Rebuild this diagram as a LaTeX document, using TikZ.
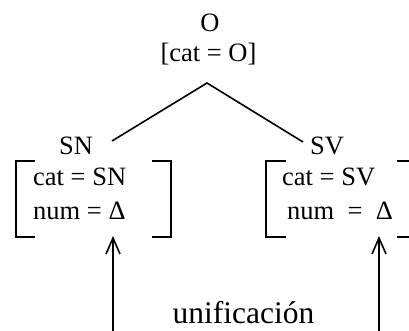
\documentclass[tikz,border=0pt]{standalone}
\usepackage{fontspec}
\setmainfont{Liberation Serif}
\usetikzlibrary{arrows.meta}
\begin{document}
\begin{tikzpicture}[x=1pt,y=-1pt,
  lbl/.style={inner sep=0pt,font=\fontsize{26.5}{30}\selectfont},
  big/.style={inner sep=0pt,font=\fontsize{31.5}{36}\selectfont},
  ln/.style={line width=1.6pt},
  brk/.style={line width=1.8pt},
  uparrow/.style={line width=1.6pt,-{Straight Barb[length=16pt,width=14pt,line width=1.6pt]}}]
\useasboundingbox (0,0) rectangle (409,331);
% top node
\node[lbl,anchor=base] (O) at (210,32) {O};
\node[lbl,anchor=base] (Ocat) at (208.5,62) {[cat = O]};
\coordinate (apex) at (207,83);
% daughters
\node[lbl,anchor=base] (SN) at (76,155) {SN};
\node[lbl,anchor=base west] (SV) at (310,155) {SV};
\coordinate (snend) at (112,141);
\coordinate (svend) at (303,142);
\draw[ln] (snend) -- (apex) -- (svend);
% left feature box
\node[lbl,anchor=base west] (SNcat) at (33,185) {cat = SN};
\node[lbl,anchor=base west] (SNnum) at (33,219) {num = Δ};
\draw[brk] (35,161) -- (16,161) -- (16,237) -- (35,237);
\draw[brk] (152,161) -- (171,161) -- (171,237) -- (152,237);
% right feature box
\node[lbl,anchor=base west] (SVcat) at (282,185) {cat = SV};
\node[lbl,anchor=base west] (SVnum) at (287,219) {num\ \ =\ \ Δ};
\draw[brk] (286,161) -- (266,161) -- (266,237) -- (286,237);
\draw[brk] (397,161) -- (409,161);
\draw[brk] (397,237) -- (409,237);
% unification
\coordinate (la) at (113,331);
\coordinate (lt) at (113,236);
\coordinate (ra) at (379,331);
\coordinate (rt) at (379,236);
\draw[uparrow] (la) -- (lt);
\draw[uparrow] (ra) -- (rt);
\node[big,anchor=base] (uni) at (243.5,323) {unificación};
\end{tikzpicture}
\end{document}
